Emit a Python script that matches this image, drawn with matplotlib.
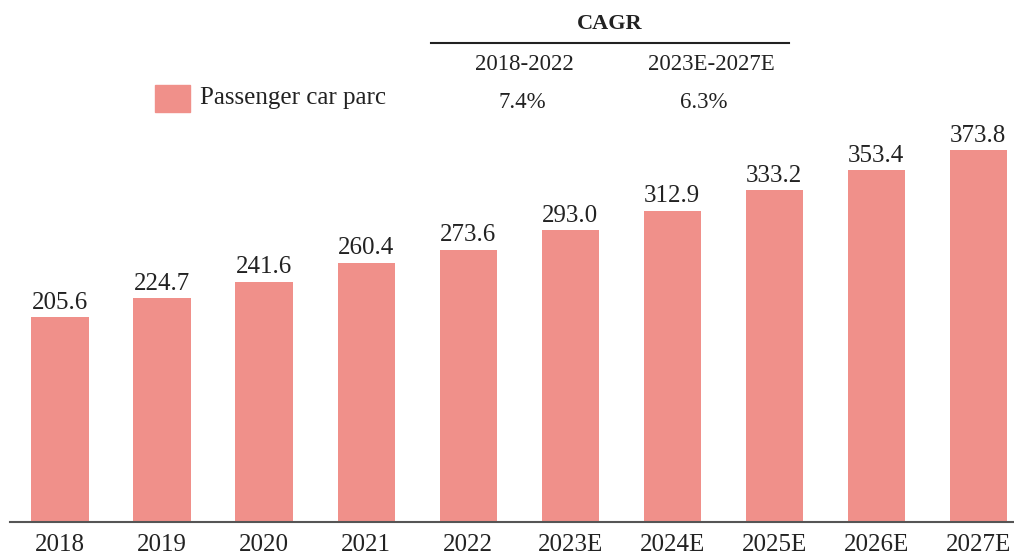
import matplotlib.pyplot as plt
from matplotlib.patches import Rectangle

# passenger car parc, million units
years = ['2018', '2019', '2020', '2021', '2022',
         '2023E', '2024E', '2025E', '2026E', '2027E']
parc = [205.6, 224.7, 241.6, 260.4, 273.6, 293.0, 312.9, 333.2, 353.4, 373.8]

cagr_periods = ['2018-2022', '2023E-2027E']
cagr_values = ['7.4%', '6.3%']

bar_color = '#F0908A'
text_color = '#222222'

plt.rcParams['font.family'] = ['Liberation Serif', 'DejaVu Serif']

W, H = 1014, 555
fig = plt.figure(figsize=(W / 100, H / 100), dpi=100)

def fx(px):
    return px / W

def fy(py):
    return 1 - py / H

# axes spans from baseline (y=522 px) to top of the figure
ax = fig.add_axes([fx(10), fy(522), fx(1014) - fx(10), fy(0) - fy(522)])
x = list(range(len(years)))
bars = ax.bar(x, parc, width=0.56, color=bar_color, zorder=2)
ax.set_xlim(-0.49, 9.35)
ax.set_ylim(0, 524.6)

for b, v in zip(bars, parc):
    ax.text(b.get_x() + b.get_width() / 2, v + 3.5, f'{v:.1f}',
            ha='center', va='bottom', fontsize=18, color=text_color)

ax.set_xticks(x)
ax.set_xticklabels(years, fontsize=18, color=text_color)
ax.tick_params(axis='x', length=0, pad=8.5)
ax.set_yticks([])
for s in ['top', 'right', 'left']:
    ax.spines[s].set_visible(False)
ax.spines['bottom'].set_color('#555555')
ax.spines['bottom'].set_linewidth(1.5)

# legend
fig.patches.append(Rectangle((fx(155), fy(112)), fx(35), fy(85) - fy(112),
                             transform=fig.transFigure, color=bar_color))
fig.text(fx(200), fy(98), 'Passenger car parc', fontsize=18,
         color=text_color, va='center', ha='left')

# CAGR block
fig.text(fx(610), fy(24), 'CAGR', fontsize=16, fontweight='bold',
         color=text_color, ha='center', va='center')
fig.add_artist(plt.Line2D([fx(431), fx(789)], [fy(43), fy(43)],
                          transform=fig.transFigure, color='#222222', lw=1.5))
for cx, per, val, vx in zip([524, 711], cagr_periods, cagr_values, [522, 704]):
    fig.text(fx(cx), fy(65), per, fontsize=16.5, color=text_color,
             ha='center', va='center')
    fig.text(fx(vx), fy(103), val, fontsize=16.5, color=text_color,
             ha='center', va='center')

fig.savefig('out.png', dpi=100)
